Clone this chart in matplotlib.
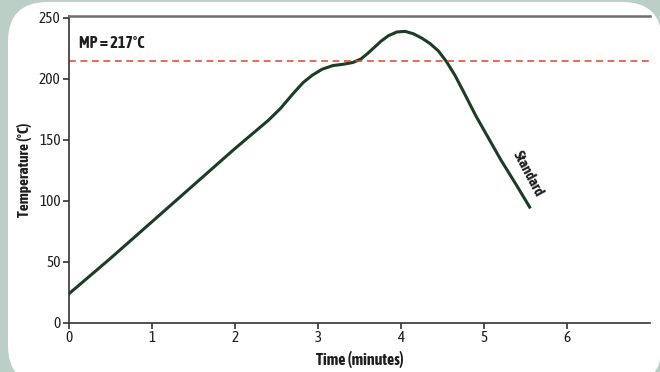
import matplotlib
matplotlib.use("Agg")
import matplotlib.pyplot as plt
from matplotlib.patches import FancyBboxPatch
from matplotlib import font_manager

# data
time_min = [0, 0.5, 1, 1.5, 2, 2.4, 2.55, 2.7, 2.82, 2.93, 3.05, 3.18, 3.3, 3.42,
            3.52, 3.6, 3.68, 3.76, 3.85, 3.95, 4.05, 4.15, 4.25, 4.35, 4.45,
            4.55, 4.65, 4.75, 4.9, 5.05, 5.2, 5.4, 5.55]
temp_c = [24, 53, 83, 113, 143, 166, 176, 188, 197, 203, 208, 211, 212, 213.5,
          216.5, 221, 226, 231, 235.5, 238.5, 239, 237, 233.5, 229, 223,
          214, 203, 190, 170, 152, 134, 112, 95]
mp_line = 215
x_ticks = [0, 1, 2, 3, 4, 5, 6]
y_ticks = [0, 50, 100, 150, 200, 250]


def is_bold(w):
    if isinstance(w, str):
        return w in ("bold", "heavy", "black", "extra bold", "semibold", "demibold")
    return w >= 600


# a condensed family that has a bold face, else any condensed, else Roboto
fonts = font_manager.fontManager.ttflist
narrow = sorted({f.name for f in fonts if "Narrow" in f.name or "Condensed" in f.name})
with_bold = [n for n in narrow if any(f.name == n and is_bold(f.weight) for f in fonts)]
if with_bold:
    base = with_bold[0]
elif narrow:
    base = narrow[0]
else:
    base = "Roboto"
plt.rcParams['font.family'] = [base, 'DejaVu Sans']

bg = "#bccfc7"
line_col = "#1c3d25"
txt = "#1e1e1e"

fig = plt.figure(figsize=(6.6, 3.72), dpi=100)
fig.patch.set_facecolor(bg)

# white rounded panel, behind the axes
panel = FancyBboxPatch((8 / 660, -13 / 372), 654 / 660, 383 / 372,
                       boxstyle="round,pad=0,rounding_size=0.06",
                       transform=fig.transFigure, facecolor="white",
                       edgecolor="none", mutation_aspect=660 / 372, zorder=-5)
fig.patches.append(panel)

ax = fig.add_axes([69 / 660, 1 - 323 / 372, (650 - 69) / 660, (323 - 16) / 372])
ax.set_facecolor("none")
ax.set_zorder(1)

ax.plot(time_min, temp_c, color=line_col, lw=2.2, solid_joinstyle="round")
ax.axhline(mp_line, color="#e2412c", lw=1.1, ls=(0, (4.5, 3)))

ax.text(0.12, 225, "MP = 217°C", fontsize=11.5, fontweight="bold", color=txt)
ax.text(5.53, 122, "Standard", fontsize=10.5, fontweight="bold", color=txt,
        rotation=-62, ha="center", va="center")

ax.set_xlim(0, 7)
ax.set_ylim(0, 251.6)
ax.set_xticks(x_ticks)
ax.set_yticks(y_ticks)
ax.tick_params(labelsize=11, colors="#333333", labelcolor=txt, length=4, width=1.2, pad=2)

ax.set_xlabel("Time (minutes)", fontsize=11.5, fontweight="bold", color=txt, labelpad=4)
ax.set_ylabel("Temperature (°C)", fontsize=11, fontweight="bold", color=txt, labelpad=5)

ax.spines["right"].set_visible(False)
ax.spines["top"].set_color("#6e6e6e")
ax.spines["top"].set_linewidth(1.8)
for s in ("left", "bottom"):
    ax.spines[s].set_color("#333333")
    ax.spines[s].set_linewidth(1.2)

fig.savefig("out.png", dpi=100, facecolor=bg)
